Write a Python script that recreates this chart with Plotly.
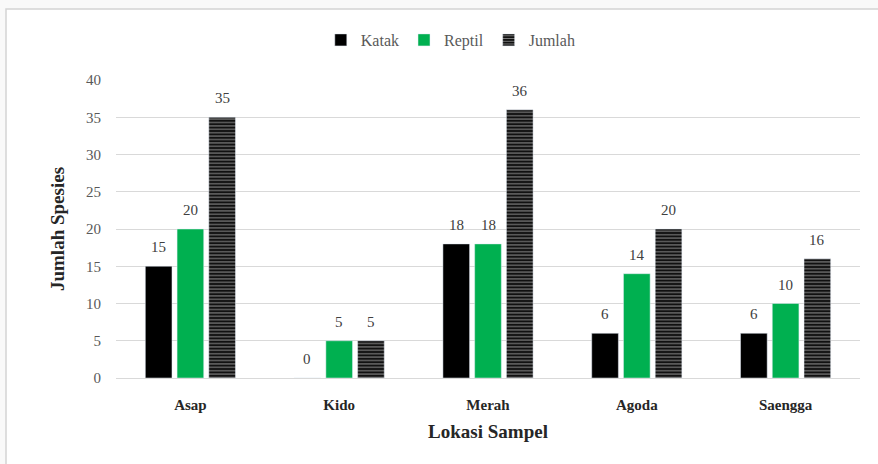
import plotly.graph_objects as go

lokasi = ["Asap", "Kido", "Merah", "Agoda", "Saengga"]
katak = [15, 0, 18, 6, 6]
reptil = [20, 5, 18, 14, 10]
jumlah = [35, 5, 36, 20, 16]

SERIF = "Liberation Serif"
LABEL_FONT = dict(family=SERIF, size=15, color="#404040")

fig = go.Figure()
fig.add_trace(go.Bar(name="Katak", x=lokasi, y=katak, marker_color="#000000"))
fig.add_trace(go.Bar(name="Reptil", x=lokasi, y=reptil, marker_color="#00b050"))
fig.add_trace(go.Bar(
    name="Jumlah", x=lokasi, y=jumlah,
    marker=dict(color="#111111",
                pattern=dict(shape="-", fgcolor="#ffffff", bgcolor="#111111",
                             size=3.4, solidity=0.3, fillmode="overlay")),
))

# page background with a framed white panel
L, R, T, B = 116, 18, 80, 86
W, H = 878, 464
pw, ph = W - L - R, H - T - B
def px_x(x):
    return (x - L) / pw
def px_y(y):
    return 1 - (y - T) / ph

BARGAP, GROUPGAP = 0.36, 0.16
slot = pw / len(lokasi) * (1 - BARGAP) / 3

# value labels above each bar
for k, series in enumerate([katak, reptil, jumlah]):
    for cat, v in zip(lokasi, series):
        fig.add_annotation(x=cat, y=v, xref="x", yref="y", text=str(v),
                           showarrow=False, yanchor="bottom", yshift=9,
                           xshift=(k - 1) * slot, font=LABEL_FONT)

fig.add_shape(type="rect", xref="paper", yref="paper",
              x0=px_x(6), x1=px_x(884), y0=px_y(470), y1=px_y(9),
              fillcolor="#ffffff", line=dict(color="#d4d4d4", width=1.5),
              layer="below")

fig.update_layout(
    width=W, height=H,
    margin=dict(l=L, r=R, t=T, b=B),
    paper_bgcolor="#f9f9f9", plot_bgcolor="rgba(0,0,0,0)",
    barmode="group", bargap=BARGAP, bargroupgap=GROUPGAP,
    font=dict(family=SERIF, color="#595959"),
    showlegend=True,
    legend=dict(orientation="h", x=0.45, xanchor="center", y=px_y(40), yanchor="middle",
                font=dict(family=SERIF, size=16, color="#595959"),
                itemwidth=30, traceorder="normal", bgcolor="rgba(0,0,0,0)"),
    xaxis=dict(
        tickfont=dict(family=SERIF, size=15, color="#262626", weight="bold"),
        showline=True, linecolor="#d9d9d9", linewidth=1, ticks="",
        ticklabelstandoff=13,
        title=dict(text="<b>Lokasi Sampel</b>", font=dict(family=SERIF, size=19, color="#262626"),
                   standoff=12),
    ),
    yaxis=dict(
        range=[0, 40], dtick=5,
        tickfont=dict(family=SERIF, size=15, color="#595959"),
        gridcolor="#d9d9d9", gridwidth=1, zeroline=False, ticks="",
        ticklabelstandoff=14,
        title=dict(text="<b>Jumlah Spesies</b>", font=dict(family=SERIF, size=19, color="#262626"),
                   standoff=16),
    ),
)

fig.write_html("out.html")
